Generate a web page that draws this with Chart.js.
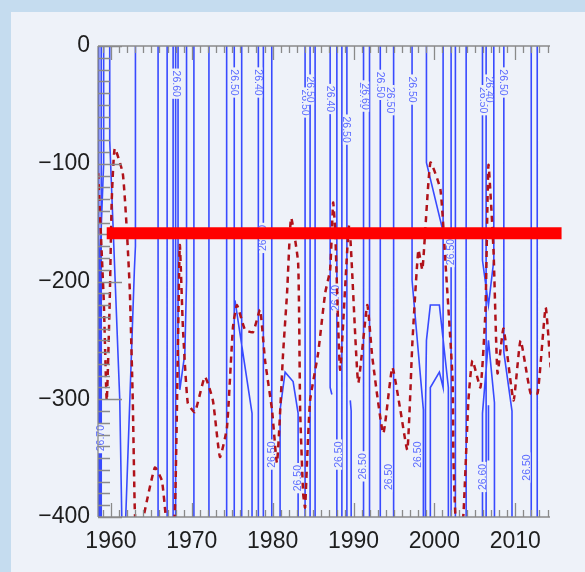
<!DOCTYPE html>
<html>
<head>
<meta charset="utf-8">
<script src="https://cdn.jsdelivr.net/npm/chart.js@4.4.0/dist/chart.umd.min.js"></script>
<style>
  html, body { margin: 0; padding: 0; }
  body { width: 585px; height: 572px; background: #c5dcef; position: relative; overflow: hidden; }
  #panel { position: absolute; left: 11px; top: 12px; right: 0; bottom: 0; background: #eef2f9; }
  #wrap { position: absolute; left: 0; top: 0; width: 585px; height: 572px; }
</style>
</head>
<body>
<div id="panel"></div>
<div id="wrap"><canvas id="graph" width="585" height="572"></canvas></div>
<script>
// axis ranges and tick labels
const xMin = 1958.4
const xMax = 2014.3
const xTicks = [1960, 1970, 1980, 1990, 2000, 2010]
const yTicks = [0, -100, -200, -300, -400]

// red dashed series (depth, m)
const dashYears = [1958.42, 1959.11, 1959.48, 1959.85, 1960.10, 1960.47, 1961.46, 1961.96, 1962.33, 1962.70,
  1962.95, 1963.20, 1963.95, 1965.43, 1966.30, 1966.79, 1967.30, 1967.90, 1968.28, 1968.52,
  1968.90, 1969.50, 1970.38, 1971.62, 1972.61, 1973.48, 1974.35, 1975.09, 1975.59, 1976.58,
  1977.57, 1978.44, 1979.06, 1979.92, 1980.54, 1981.29, 1981.78, 1982.28, 1983.15, 1983.40,
  1983.77, 1984.01, 1984.26, 1984.63, 1985.62, 1986.49, 1987.11, 1987.48, 1987.73, 1988.35,
  1989.47, 1990.58, 1991.70, 1992.32, 1993.68, 1994.80, 1995.79, 1996.66, 1997.28, 1998.02,
  1998.52, 1999.51, 2000.75, 2001.37, 2002.24, 2002.36, 2002.61, 2003.10, 2003.60, 2004.21,
  2004.71, 2005.70, 2006.32, 2006.69, 2007.31, 2007.81, 2008.55, 2009.79, 2010.66, 2011.90,
  2012.77, 2013.76, 2014.38]
const dashDepths = [-108, -216, -301, -216, -131, -87, -108, -156, -207, -301,
  -394, -420, -402, -358, -369, -400, -425, -397, -258, -169,
  -239, -303, -311, -281, -301, -349, -324, -239, -220, -241,
  -243, -224, -267, -309, -354, -261, -210, -146, -184, -309,
  -380, -392, -352, -301, -261, -210, -190, -133, -156, -275,
  -152, -286, -220, -264, -329, -273, -309, -343, -252, -173,
  -190, -99, -122, -184, -281, -352, -400, -425, -397, -301,
  -267, -290, -224, -101, -173, -278, -240, -301, -250, -295,
  -295, -222, -273]

// thick red reference level
const barDepth = -159
const barYears = [1959.48, 2015.73]

// blue contour lines running through the whole depth range
const fullLineYears = [1958.49, 1958.8, 1965.83, 1966.95, 1967.69, 1968.0, 1970.26, 1972.12, 1974.31,
  1975.25, 1976.17, 1978.23, 1978.85, 1979.89, 1984.01, 1984.63, 1985.25, 1987.94, 1988.56,
  1989.18, 1991.24, 1991.98, 1993.31, 1994.96, 2002.07, 2002.6, 2003.93, 2006.4, 2011.98, 2012.72]

// blue contour lines that bend
const bentYears = [
  [1959.1, 1959.1, 1958.65, 1958.65],
  [1959.85, 1959.85, 1961.09, 1961.34],
  [1963.03, 1963.03, 1962.9, 1961.83],
  [1968.3, 1968.3, 1968.52, 1969.14, 1969.35, 1969.35],
  [1975.34, 1977.45, 1977.45],
  [1980.92, 1980.92, 1981.54, 1982.53, 1983.15, 1983.15],
  [1987.11, 1987.11, 1987.32],
  [1989.6, 1989.71, 1989.71],
  [1997.24, 1997.24, 1998.64, 1998.64],
  [1999.02, 1999.02, 2000.95, 2001.08],
  [2001.08, 2001.08, 2000.62, 1999.5, 1999.5],
  [1998.9, 1998.9, 1999.02, 1999.5, 2000.62, 2001.73, 2001.73],
  [2005.95, 2005.95, 2006.69, 2007.35, 2007.35],
  [2005.95, 2005.95, 2006.69, 2007.43, 2007.43],
  [2006.69, 2006.69],
  [2008.59, 2008.59, 2009.6, 2009.6]
]
const bentDepths = [
  [0, -100, -180, -400],
  [0, -80, -300, -400],
  [0, -170, -190, -400],
  [0, -250, -292, -261, -200, 0],
  [-216, -312, -400],
  [-400, -309, -277, -285, -312, -400],
  [0, -290, -296],
  [-301, -310, -400],
  [0, -199, -309, -400],
  [0, -99, -154, -160],
  [0, -290, -277, -290, -400],
  [-400, -309, -250, -220, -220, -290, -400],
  [0, -182, -220, -182, 0],
  [-400, -312, -250, -303, -400],
  [-305, -352],
  [0, -260, -310, -400]
]

// contour labels
const labelYears = [1968.04, 1975.25, 1978.23, 1984.01, 1984.63, 1987.11, 1989.18, 1991.24, 1991.45, 1993.31,
  1994.6, 1997.24, 2006.06, 2006.75, 2008.59, 1978.81, 2002.0, 1987.73, 1958.73, 1979.89,
  1983.03, 1988.1, 1991.08, 1994.3, 1997.87, 2005.94, 2011.39]
const labelDepths = [-32, -31, -31, -48, -37, -45, -71, -42, -43, -33,
  -46, -37, -46, -37, -31, -163, -175, -214, -333, -347,
  -367, -347, -357, -366, -347, -366, -358]
const labelTexts = ['26.60', '26.50', '26.40', '26.50', '26.50', '26.40', '26.50', '26.40', '26.60', '26.50',
  '26.50', '26.50', '26.50', '26.40', '26.50', '26.40', '26.50', '26.40', '26.70', '26.50',
  '26.50', '26.50', '26.50', '26.50', '26.50', '26.60', '26.50']

const panelColor = '#eef2f9'
const axisColor = '#8a8a8a'
const tickFont = { family: '"Liberation Sans", Arial, sans-serif', size: 23 }

const blueData = []
fullLineYears.forEach(yr => {
  blueData.push({ x: yr, y: 0 }, { x: yr, y: -400 }, { x: yr, y: null })
})
bentYears.forEach((years, i) => {
  years.forEach((yr, j) => blueData.push({ x: yr, y: bentDepths[i][j] }))
  blueData.push({ x: years[years.length - 1], y: null })
})

function drawLabels (chart) {
  const { ctx, scales: { x, y } } = chart
  ctx.save()
  ctx.font = '10.5px "Liberation Sans", Arial, sans-serif'
  ctx.textAlign = 'center'
  ctx.textBaseline = 'middle'
  for (let i = 0; i < labelTexts.length; i++) {
    const px = x.getPixelForValue(labelYears[i])
    const py = y.getPixelForValue(labelDepths[i])
    const w = ctx.measureText(labelTexts[i]).width
    ctx.save()
    ctx.translate(px, py)
    ctx.rotate((labelDepths[i] > -150 ? 90 : -90) * Math.PI / 180)
    ctx.fillStyle = panelColor
    ctx.fillRect(-w / 2 - 2, -4, w + 4, 8)
    ctx.fillStyle = '#5c6cff'
    ctx.fillText(labelTexts[i], 0, 0.5)
    ctx.restore()
  }
  ctx.restore()
}

function drawAxes (chart) {
  const { ctx, chartArea: a, scales: { x, y } } = chart
  ctx.save()
  ctx.strokeStyle = axisColor
  ctx.lineWidth = 1.3
  ctx.beginPath()
  ctx.moveTo(a.left, a.top); ctx.lineTo(a.right, a.top)
  ctx.moveTo(a.left, a.bottom); ctx.lineTo(a.right, a.bottom)
  ctx.moveTo(a.left, a.top); ctx.lineTo(a.left, a.bottom)
  for (let yr = Math.ceil(xMin); yr <= Math.floor(xMax); yr++) {
    const px = Math.round(x.getPixelForValue(yr)) + 0.5
    const len = yr % 10 === 0 ? 14 : 7
    ctx.moveTo(px, a.top); ctx.lineTo(px, a.top + len)
    ctx.moveTo(px, a.bottom); ctx.lineTo(px, a.bottom - len)
  }
  for (let d = 0; d >= -400; d -= 10) {
    const py = Math.round(y.getPixelForValue(d)) + 0.5
    const len = d % 100 === 0 ? 24 : 12
    ctx.moveTo(a.left, py); ctx.lineTo(a.left + len, py)
  }
  ctx.stroke()
  ctx.restore()
}

const framePlugin = {
  id: 'frame',
  afterDatasetDraw (chart, args) {
    if (args.index === 2) drawLabels(chart)
    if (args.index === 1) drawAxes(chart)
  }
}

new Chart('graph', {
  type: 'scatter',
  data: {
    datasets: [
      {
        data: barYears.map(yr => ({ x: yr, y: barDepth })),
        showLine: true,
        borderColor: '#ff0000',
        borderWidth: 12,
        borderCapStyle: 'butt',
        pointRadius: 0,
        clip: false
      },
      {
        data: dashYears.map((yr, i) => ({ x: yr, y: dashDepths[i] })),
        showLine: true,
        borderColor: '#b0121a',
        borderWidth: 2.5,
        borderDash: [6, 5],
        tension: 0.15,
        pointRadius: 0
      },
      {
        data: blueData,
        showLine: true,
        spanGaps: false,
        borderColor: 'rgba(35, 55, 255, 0.9)',
        borderWidth: 1.6,
        pointRadius: 0
      }
    ]
  },
  options: {
    responsive: false,
    animation: false,
    devicePixelRatio: 1,
    layout: { padding: { top: 46, right: 35, left: 0, bottom: 0 } },
    plugins: { legend: { display: false }, tooltip: { enabled: false } },
    scales: {
      x: {
        type: 'linear',
        min: xMin,
        max: xMax,
        grid: { display: false, drawTicks: false },
        border: { display: false },
        ticks: { font: tickFont, color: '#1e1e1e', padding: 11, maxRotation: 0, autoSkip: false, callback: v => String(v) },
        afterBuildTicks: s => { s.ticks = xTicks.map(v => ({ value: v })) },
        afterFit: s => { s.height = 55 }
      },
      y: {
        type: 'linear',
        min: -400,
        max: 0,
        grid: { display: false, drawTicks: false },
        border: { display: false },
        ticks: { font: tickFont, color: '#1e1e1e', padding: 8, callback: v => String(v).replace('-', '\u2212') },
        afterBuildTicks: s => { s.ticks = yTicks.map(v => ({ value: v })) },
        afterFit: s => { s.width = 98 }
      }
    }
  },
  plugins: [framePlugin]
})
</script>
</body>
</html>
